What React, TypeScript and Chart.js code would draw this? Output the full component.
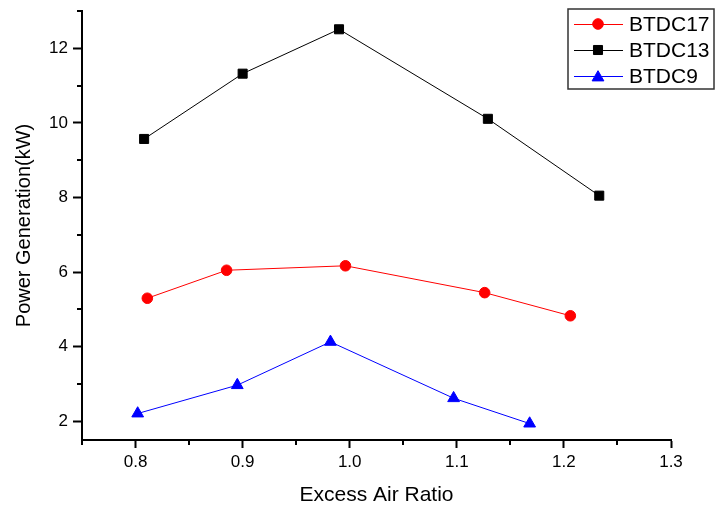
import React, { useEffect, useRef } from 'react';
import { Chart, registerables } from 'chart.js';
import { drawPoint } from 'chart.js/helpers';

Chart.register(...registerables);

const seriesNames = ['BTDC17', 'BTDC13', 'BTDC9'];
const btdc17X = [0.811, 0.885, 0.996, 1.126, 1.206];
const btdc17Y = [5.30, 6.05, 6.17, 5.45, 4.83];
const btdc13X = [0.808, 0.900, 0.990, 1.129, 1.233];
const btdc13Y = [9.57, 11.32, 12.51, 10.11, 8.05];
const btdc9X = [0.802, 0.895, 0.982, 1.097, 1.168];
const btdc9Y = [2.21, 2.97, 4.13, 2.62, 1.94];
const xTicks = [0.8, 0.9, 1.0, 1.1, 1.2, 1.3];
const xMinor = [0.75, 0.85, 0.95, 1.05, 1.15, 1.25];
const yTicks = [2, 4, 6, 8, 10, 12];
const yMinor = [3, 5, 7, 9, 11, 13];

const FONT = "Arial, 'Liberation Sans', sans-serif";

const toPoints = (xs: number[], ys: number[]) => xs.map((x, i) => ({ x, y: ys[i] }));

const minorAndLegend = {
  id: 'minorAndLegend',
  afterDraw(chart: any) {
    const ctx = chart.ctx;
    const xs = chart.scales.x;
    const ys = chart.scales.y;
    const area = chart.chartArea;
    ctx.save();
    ctx.strokeStyle = '#000';
    ctx.lineWidth = 2;
    ctx.beginPath();
    xMinor.forEach((v) => {
      const px = Math.round(xs.getPixelForValue(v));
      ctx.moveTo(px, area.bottom);
      ctx.lineTo(px, area.bottom + 5);
    });
    yMinor.forEach((v) => {
      const py = Math.round(ys.getPixelForValue(v));
      ctx.moveTo(area.left, py);
      ctx.lineTo(area.left - 5, py);
    });
    ctx.stroke();

    // legend box
    const bx = 568, by = 9, bw = 146, bh = 80;
    ctx.fillStyle = '#fff';
    ctx.fillRect(bx, by, bw, bh);
    ctx.strokeStyle = '#333';
    ctx.lineWidth = 1.5;
    ctx.strokeRect(bx, by, bw, bh);
    const rows = [24, 50, 76];
    chart.data.datasets.forEach((ds: any, i: number) => {
      const y = rows[i];
      ctx.strokeStyle = ds.borderColor;
      ctx.lineWidth = 1;
      ctx.beginPath();
      ctx.moveTo(574, y + 0.5);
      ctx.lineTo(623, y + 0.5);
      ctx.stroke();
      ctx.fillStyle = ds.pointBackgroundColor;
      ctx.strokeStyle = ds.pointBorderColor;
      drawPoint(ctx, {
        pointStyle: ds.pointStyle,
        radius: ds.pointRadius,
        borderWidth: ds.pointBorderWidth,
        rotation: 0,
      } as any, 598, ds.pointStyle === 'triangle' ? y + 1.5 : y);
      ctx.fillStyle = '#000';
      ctx.font = `21px ${FONT}`;
      ctx.textBaseline = 'middle';
      ctx.textAlign = 'left';
      ctx.fillText(ds.label, 629, y + 1);
    });
    ctx.restore();
  },
};

export default function App() {
  const ref = useRef<HTMLCanvasElement | null>(null);
  useEffect(() => {
    if (!ref.current) return;
    const chart = new Chart(ref.current, {
      type: 'line',
      data: {
        datasets: [
          {
            label: seriesNames[0],
            data: toPoints(btdc17X, btdc17Y),
            borderColor: '#ff0000',
            backgroundColor: '#ff0000',
            pointBackgroundColor: '#ff0000',
            pointBorderColor: '#ff0000',
            pointStyle: 'circle',
            pointRadius: 5.3,
            pointBorderWidth: 1,
            borderWidth: 1,
          },
          {
            label: seriesNames[1],
            data: toPoints(btdc13X, btdc13Y),
            borderColor: '#000000',
            backgroundColor: '#000000',
            pointBackgroundColor: '#000000',
            pointBorderColor: '#000000',
            pointStyle: 'rect',
            pointRadius: 6.4,
            pointBorderWidth: 1,
            borderWidth: 1,
          },
          {
            label: seriesNames[2],
            data: toPoints(btdc9X, btdc9Y),
            borderColor: '#0000ff',
            backgroundColor: '#0000ff',
            pointBackgroundColor: '#0000ff',
            pointBorderColor: '#0000ff',
            pointStyle: 'triangle',
            pointRadius: 6.8,
            pointBorderWidth: 1,
            borderWidth: 1,
          },
        ] as any,
      },
      options: {
        responsive: false,
        animation: false,
        clip: false as any,
        layout: { padding: { top: 11, right: 44, left: 0, bottom: 0 } },
        plugins: { legend: { display: false }, tooltip: { enabled: false } },
        scales: {
          x: {
            type: 'linear',
            min: 0.75,
            max: 1.3,
            afterBuildTicks: (s: any) => {
              s.ticks = xTicks.map((v) => ({ value: v }));
            },
            afterFit: (s: any) => {
              s.height = 71;
              s.paddingLeft = 0;
              s.paddingRight = 0;
            },
            border: { display: true, color: '#000', width: 2 },
            grid: { drawOnChartArea: false, drawTicks: true, tickLength: 8, tickColor: '#000', tickWidth: 2 },
            ticks: {
              color: '#000',
              font: { family: FONT, size: 17 },
              padding: 4,
              maxRotation: 0,
              callback: (v: any) => Number(v).toFixed(1),
            },
            title: {
              display: true,
              text: 'Excess Air Ratio',
              color: '#000',
              font: { family: FONT, size: 21 },
              padding: { top: 0, bottom: 3 },
            },
          },
          y: {
            type: 'linear',
            min: 1.5,
            max: 13,
            afterBuildTicks: (s: any) => {
              s.ticks = yTicks.map((v) => ({ value: v }));
            },
            afterFit: (s: any) => {
              s.width = 82;
              s.paddingTop = 0;
              s.paddingBottom = 0;
            },
            border: { display: true, color: '#000', width: 2 },
            grid: { drawOnChartArea: false, drawTicks: true, tickLength: 9, tickColor: '#000', tickWidth: 2 },
            ticks: {
              color: '#000',
              font: { family: FONT, size: 17 },
              padding: 5,
              callback: (v: any) => String(v),
            },
            title: {
              display: true,
              text: 'Power Generation(kW)',
              color: '#000',
              font: { family: FONT, size: 20 },
              padding: { top: 12, bottom: 0 },
            },
          },
        },
      },
      plugins: [minorAndLegend],
    } as any);
    return () => chart.destroy();
  }, []);
  return (
    <div style={{ position: 'absolute', left: 0, top: 0, width: 715, height: 511, background: '#fff' }}>
      <canvas ref={ref} width={715} height={511} style={{ display: 'block' }} />
    </div>
  );
}
